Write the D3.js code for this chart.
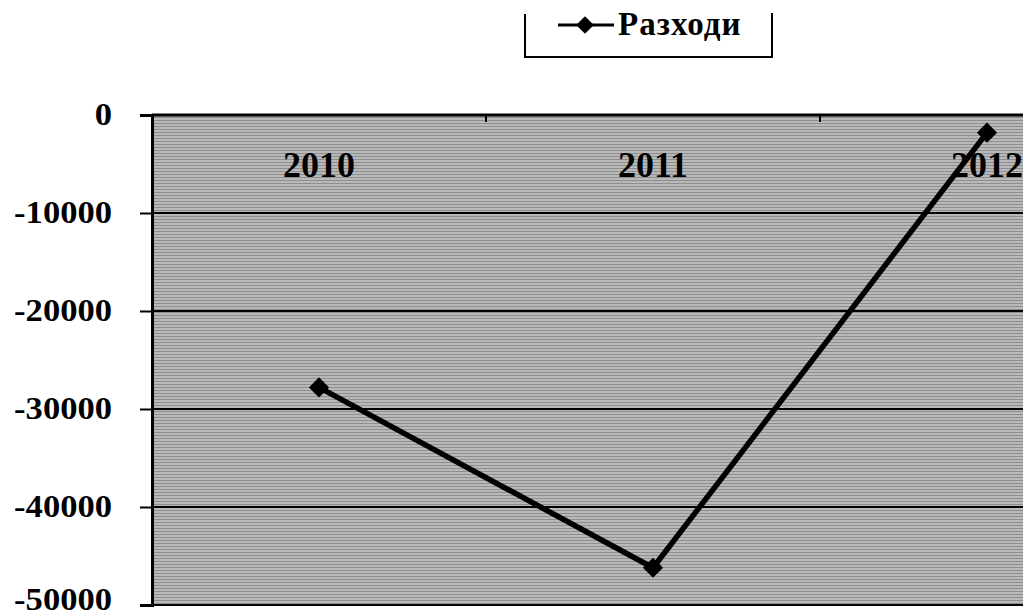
<!DOCTYPE html>
<html>
<head>
<meta charset="UTF-8">
<script src="https://d3js.org/d3.v7.min.js"></script>
<style>
    body { margin: 0; background: #fff; }
    text { font-family: "Liberation Serif", "DejaVu Serif", serif; font-weight: bold; fill: #000; }
</style>
</head>
<body>
<div id="chart"></div>
<script>
    const years = ["2010", "2011", "2012"];
    const expenses = [-27800, -46200, -1800];
    const yTicks = [0, -10000, -20000, -30000, -40000, -50000];
    const seriesName = "Разходи";

    const W = 1023, H = 615;
    const plotLeft = 152, plotRight = 1154, plotTop = 115, plotBottom = 605;

    const svg = d3.select("#chart").append("svg")
        .attr("width", W)
        .attr("height", H);

    const x = d3.scaleBand().domain(years).range([plotLeft, plotRight]);
    const y = d3.scaleLinear().domain([-50000, 0]).range([plotBottom, plotTop]);

    // grainy gray fill, like the scanned original
    const pat = svg.append("defs").append("pattern")
        .attr("id", "grain")
        .attr("width", 4).attr("height", 3)
        .attr("patternUnits", "userSpaceOnUse");
    pat.append("rect").attr("width", 4).attr("height", 3).attr("fill", "#b9b9b9");
    pat.append("rect").attr("width", 4).attr("height", 1).attr("fill", "#8e8e8e");

    svg.append("rect")
        .attr("x", plotLeft).attr("y", plotTop)
        .attr("width", plotRight - plotLeft).attr("height", plotBottom - plotTop)
        .attr("fill", "url(#grain)");

    // gridlines
    svg.append("g").selectAll("line")
        .data(yTicks)
        .enter().append("line")
        .attr("x1", plotLeft).attr("x2", plotRight)
        .attr("y1", d => y(d)).attr("y2", d => y(d))
        .attr("stroke", "#000")
        .attr("stroke-width", 2);

    // y axis
    const yAxis = svg.append("g")
        .attr("transform", `translate(${plotLeft},0)`)
        .call(d3.axisLeft(y).tickValues(yTicks).tickSize(12).tickFormat(d => String(d)));
    yAxis.select(".domain").attr("stroke", "#000").attr("stroke-width", 3);
    yAxis.selectAll(".tick line").attr("stroke", "#000").attr("stroke-width", 2);
    yAxis.selectAll("text")
        .style("font-size", "32px")
        .style("font-family", "'Liberation Serif', serif")
        .style("font-weight", "bold")
        .attr("transform", "scale(1.08,1)")
        .attr("x", -40 / 1.08)
        .attr("dy", d => d === -50000 ? "0.14em" : "0.29em");

    // x axis at value 0 (top)
    svg.append("line")
        .attr("x1", plotLeft).attr("x2", plotRight)
        .attr("y1", y(0)).attr("y2", y(0))
        .attr("stroke", "#000").attr("stroke-width", 3);

    const bounds = years.map(d => x(d)).concat([plotRight]);
    svg.append("g").selectAll("line")
        .data(bounds)
        .enter().append("line")
        .attr("x1", d => d).attr("x2", d => d)
        .attr("y1", y(0)).attr("y2", y(0) + 7)
        .attr("stroke", "#000").attr("stroke-width", 2);

    svg.append("g").selectAll("text")
        .data(years)
        .enter().append("text")
        .attr("x", d => x(d) + x.bandwidth() / 2)
        .attr("y", y(0) + 62)
        .attr("text-anchor", "middle")
        .style("font-size", "36px")
        .text(d => d);

    // series line
    const pts = years.map((d, i) => [x(d) + x.bandwidth() / 2, y(expenses[i])]);
    svg.append("path")
        .datum(pts)
        .attr("d", d3.line())
        .attr("fill", "none")
        .attr("stroke", "#000")
        .attr("stroke-width", 5.5)
        .attr("stroke-linejoin", "round");

    const diamond = d3.symbol().type(d3.symbolDiamond2).size(260);
    svg.append("g").selectAll("path")
        .data(pts)
        .enter().append("path")
        .attr("d", diamond)
        .attr("transform", d => `translate(${d[0]},${d[1]})`)
        .attr("fill", "#000");

    // legend (top edge lost in the original)
    const lg = svg.append("g");
    lg.append("path")
        .attr("d", "M525,14 L525,57 L772,57 L772,13")
        .attr("fill", "none")
        .attr("stroke", "#000")
        .attr("stroke-width", 2);
    lg.append("line")
        .attr("x1", 558).attr("x2", 614)
        .attr("y1", 25).attr("y2", 25)
        .attr("stroke", "#000").attr("stroke-width", 3);
    lg.append("path")
        .attr("d", d3.symbol().type(d3.symbolDiamond2).size(200))
        .attr("transform", "translate(585,25)")
        .attr("fill", "#000");
    lg.append("text")
        .attr("x", 618).attr("y", 35)
        .style("font-size", "33px")
        .style("letter-spacing", "1px")
        .text(seriesName);
</script>
</body>
</html>
